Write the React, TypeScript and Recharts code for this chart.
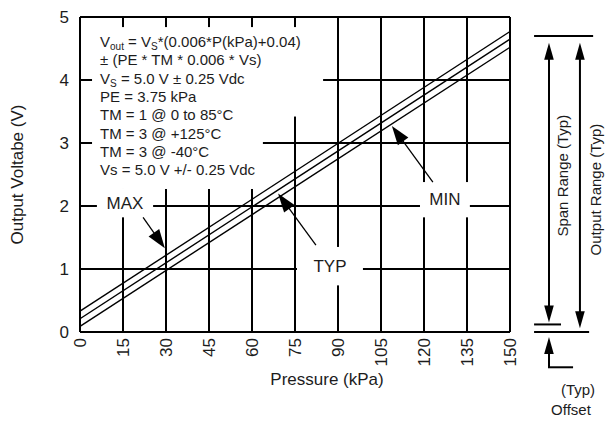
import React from 'react';
import { LineChart, Line, XAxis, YAxis, CartesianGrid, ReferenceArea, ReferenceLine, Label } from 'recharts';

// transfer function (end points of each straight line)
const pressureKpa = [0, 150];
const maxOutput = [0.33, 4.77];
const typOutput = [0.21, 4.65];
const minOutput = [0.09, 4.52];

const pressureTicks = [0, 15, 30, 45, 60, 75, 90, 105, 120, 135, 150];
const voltageTicks = [0, 1, 2, 3, 4, 5];

// right-hand span / offset dimensioning (V)
const spanTopV = 4.7;
const offsetTypV = 0.12;

const INK = '#1c1c1c';
const FONT = '"Liberation Sans", Arial, Helvetica, sans-serif';

const rows = pressureKpa.map((p, i) => ({
  pressure: p,
  max: maxOutput[i],
  typ: typOutput[i],
  min: minOutput[i],
}));

const PressureTick = ({ x, y, payload }: any) => (
  <text
    x={x}
    y={y}
    transform={`rotate(-90 ${x} ${y})`}
    textAnchor="end"
    dy="0.36em"
    fontSize={17}
    fill={INK}
    fontFamily={FONT}
  >
    {payload.value}
  </text>
);

// line with filled arrow heads; head1 at (x1,y1), head2 at (x2,y2)
const arrowShape =
  (opts: { head1?: boolean; head2?: boolean; sw?: number; len?: number; hw?: number; extra?: (p: any) => any }) =>
  (props: any) => {
    const { x1, y1, x2, y2 } = props;
    const { head1 = false, head2 = false, sw = 2, len = 17, hw = 4.8 } = opts;
    const dx = x2 - x1;
    const dy = y2 - y1;
    const L = Math.hypot(dx, dy) || 1;
    const ux = dx / L;
    const uy = dy / L;
    const head = (tx: number, ty: number, dirx: number, diry: number) => {
      const bx = tx - dirx * len;
      const by = ty - diry * len;
      return `${tx},${ty} ${bx - diry * hw},${by + dirx * hw} ${bx + diry * hw},${by - dirx * hw}`;
    };
    const sx = head1 ? x1 + ux * (len - 2) : x1;
    const sy = head1 ? y1 + uy * (len - 2) : y1;
    const ex = head2 ? x2 - ux * (len - 2) : x2;
    const ey = head2 ? y2 - uy * (len - 2) : y2;
    return (
      <g>
        <line x1={sx} y1={sy} x2={ex} y2={ey} stroke="#000" strokeWidth={sw} />
        {head1 && <polygon points={head(x1, y1, -ux, -uy)} fill="#000" />}
        {head2 && <polygon points={head(x2, y2, ux, uy)} fill="#000" />}
        {opts.extra ? opts.extra({ x1, y1, x2, y2 }) : null}
      </g>
    );
  };

const plainLine = (props: any) => (
  <line x1={props.x1} y1={props.y1} x2={props.x2} y2={props.y2} stroke="#000" strokeWidth={2} />
);

const rotatedText = (text: string, dxFromLine: number, dyFromMid: number) => (p: any) => {
  const cx = p.x1 + dxFromLine;
  const cy = (p.y1 + p.y2) / 2 + dyFromMid;
  return (
    <text
      x={cx}
      y={cy}
      transform={`rotate(-90 ${cx} ${cy})`}
      textAnchor="middle"
      dominantBaseline="central"
      fontSize={15}
      fill={INK}
      fontFamily={FONT}
    >
      {text}
    </text>
  );
};

// white knock-out box with a centred caption
const captionBox = (caption: string) => (props: any) => {
  const { x, y, width, height } = props;
  return (
    <g>
      <rect x={x} y={y} width={width} height={height} fill="#fff" />
      <text
        x={x + width / 2}
        y={y + height / 2}
        textAnchor="middle"
        dominantBaseline="central"
        fontSize={17}
        fill={INK}
        fontFamily={FONT}
      >
        {caption}
      </text>
    </g>
  );
};

const whiteBox = (props: any) => (
  <rect x={props.x} y={props.y} width={props.width} height={props.height} fill="#fff" />
);

// upper knock-out carrying the transfer function notes (text runs down into the lower box)
const formulaBox = (props: any) => {
  const { x, y, width, height } = props;
  const lx = x + 8;
  const base = y + 20;
  const step = 18.3;
  const t = (i: number, content: any) => (
    <text key={i} x={lx} y={base + i * step} fontSize={15} fill={INK} fontFamily={FONT}>
      {content}
    </text>
  );
  return (
    <g>
      <rect x={x} y={y} width={width} height={height} fill="#fff" />
      {t(
        0,
        <>
          V<tspan dy={3} fontSize={10}>out</tspan>
          <tspan dy={-3}> = V</tspan>
          <tspan dy={3} fontSize={10}>S</tspan>
          <tspan dy={-3}>*(0.006*P(kPa)+0.04)</tspan>
        </>
      )}
      {t(1, '± (PE * TM * 0.006 * Vs)')}
      {t(
        2,
        <>
          V<tspan dy={3} fontSize={10}>S</tspan>
          <tspan dy={-3}> = 5.0 V ± 0.25 Vdc</tspan>
        </>
      )}
      {t(3, 'PE = 3.75 kPa')}
      {t(4, 'TM = 1 @ 0 to 85°C')}
      {t(5, 'TM = 3 @ +125°C')}
      {t(6, 'TM = 3 @ -40°C')}
      {t(7, 'Vs = 5.0 V +/- 0.25 Vdc')}
    </g>
  );
};

const offsetText = (p: any) => (
  <g fontSize={15} fill={INK} fontFamily={FONT} textAnchor="middle" dominantBaseline="central">
    <text x={p.x1 + 29} y={p.y1 + 22}>(Typ)</text>
    <text x={p.x1 + 22} y={p.y1 + 42}>Offset</text>
  </g>
);

export default function App() {
  return (
    <div style={{ position: 'absolute', left: 0, top: 0, width: 606, height: 421, background: '#fff' }}>
      <LineChart width={606} height={421} data={rows} margin={{ top: 17, right: 96, bottom: 39, left: 20 }}>
        <CartesianGrid stroke="#000" strokeWidth={2} />
        <XAxis
          type="number"
          dataKey="pressure"
          domain={[0, 150]}
          ticks={pressureTicks}
          interval={0}
          height={50}
          tickLine={false}
          tickMargin={0}
          axisLine={{ stroke: '#000', strokeWidth: 2 }}
          tick={<PressureTick />}
        >
          <Label
            content={({ viewBox }: any) => (
              <text
                x={viewBox.x + viewBox.width / 2 + 32}
                y={385}
                textAnchor="middle"
                fontSize={17}
                fill={INK}
                fontFamily={FONT}
              >
                Pressure (kPa)
              </text>
            )}
          />
        </XAxis>
        <YAxis
          type="number"
          domain={[0, 5]}
          ticks={voltageTicks}
          interval={0}
          width={60}
          tickLine={false}
          tickMargin={5}
          axisLine={{ stroke: '#000', strokeWidth: 2 }}
          tick={{ fontSize: 17, fill: INK, fontFamily: FONT }}
        >
          <Label
            content={({ viewBox }: any) => {
              const cx = 17;
              const cy = viewBox.y + viewBox.height / 2;
              return (
                <text
                  x={cx}
                  y={cy}
                  transform={`rotate(-90 ${cx} ${cy})`}
                  textAnchor="middle"
                  dominantBaseline="central"
                  fontSize={17}
                  fill={INK}
                  fontFamily={FONT}
                >
                  Output Voltabe (V)
                </text>
              );
            }}
          />
        </YAxis>

        {/* knock-out boxes over the grid */}
        <ReferenceArea x1={4.2} x2={63.8} y1={2.27} y2={3.43} ifOverflow="visible" shape={whiteBox} />
        <ReferenceArea x1={4.2} x2={84.8} y1={3.42} y2={4.84} ifOverflow="visible" shape={formulaBox} />
        <ReferenceArea x1={5.9} x2={25.5} y1={1.82} y2={2.27} ifOverflow="visible" shape={captionBox('MAX')} />
        <ReferenceArea x1={75.7} x2={98.7} y1={0.74} y2={1.35} ifOverflow="visible" shape={captionBox('TYP')} />
        <ReferenceArea x1={118.6} x2={136.0} y1={1.82} y2={2.38} ifOverflow="visible" shape={captionBox('MIN')} />

        <Line type="linear" dataKey="max" stroke="#000" strokeWidth={1.4} dot={false} isAnimationActive={false} />
        <Line type="linear" dataKey="typ" stroke="#000" strokeWidth={1.4} dot={false} isAnimationActive={false} />
        <Line type="linear" dataKey="min" stroke="#000" strokeWidth={1.4} dot={false} isAnimationActive={false} />

        {/* pointer arrows */}
        <ReferenceLine
          segment={[{ x: 22.0, y: 1.82 }, { x: 29.6, y: 1.33 }]}
          ifOverflow="visible"
          shape={arrowShape({ head2: true, sw: 1.3, len: 19, hw: 6.5 })}
        />
        <ReferenceLine
          segment={[{ x: 82.3, y: 1.38 }, { x: 69.1, y: 2.2 }]}
          ifOverflow="visible"
          shape={arrowShape({ head2: true, sw: 1.3, len: 19, hw: 6.5 })}
        />
        <ReferenceLine
          segment={[{ x: 123.1, y: 2.38 }, { x: 108.8, y: 3.27 }]}
          ifOverflow="visible"
          shape={arrowShape({ head2: true, sw: 1.3, len: 19, hw: 6.5 })}
        />

        {/* span / output range / offset dimensioning */}
        <ReferenceLine segment={[{ x: 158.4, y: spanTopV }, { x: 179.0, y: spanTopV }]} ifOverflow="visible" shape={plainLine} />
        <ReferenceLine segment={[{ x: 158.4, y: offsetTypV }, { x: 167.8, y: offsetTypV }]} ifOverflow="visible" shape={plainLine} />
        <ReferenceLine segment={[{ x: 158.4, y: 0 }, { x: 177.6, y: 0 }]} ifOverflow="visible" shape={plainLine} />
        <ReferenceLine
          segment={[{ x: 163.6, y: spanTopV - 0.11 }, { x: 163.6, y: offsetTypV + 0.03 }]}
          ifOverflow="visible"
          shape={arrowShape({ head1: true, head2: true, extra: rotatedText('Span Range (Typ)', 14, -7) })}
        />
        <ReferenceLine
          segment={[{ x: 174.4, y: spanTopV - 0.11 }, { x: 174.4, y: 0.06 }]}
          ifOverflow="visible"
          shape={arrowShape({ head1: true, head2: true, extra: rotatedText('Output Range (Typ)', 16, 4) })}
        />
        <ReferenceLine
          segment={[{ x: 163.6, y: -0.08 }, { x: 163.6, y: -0.56 }]}
          ifOverflow="visible"
          shape={arrowShape({ head1: true })}
        />
        <ReferenceLine
          segment={[{ x: 163.6, y: -0.56 }, { x: 172.0, y: -0.56 }]}
          ifOverflow="visible"
          shape={(p: any) => (
            <g>
              <line x1={p.x1 - 1} y1={p.y1} x2={p.x2} y2={p.y2} stroke="#000" strokeWidth={2} />
              {offsetText(p)}
            </g>
          )}
        />
      </LineChart>
    </div>
  );
}
